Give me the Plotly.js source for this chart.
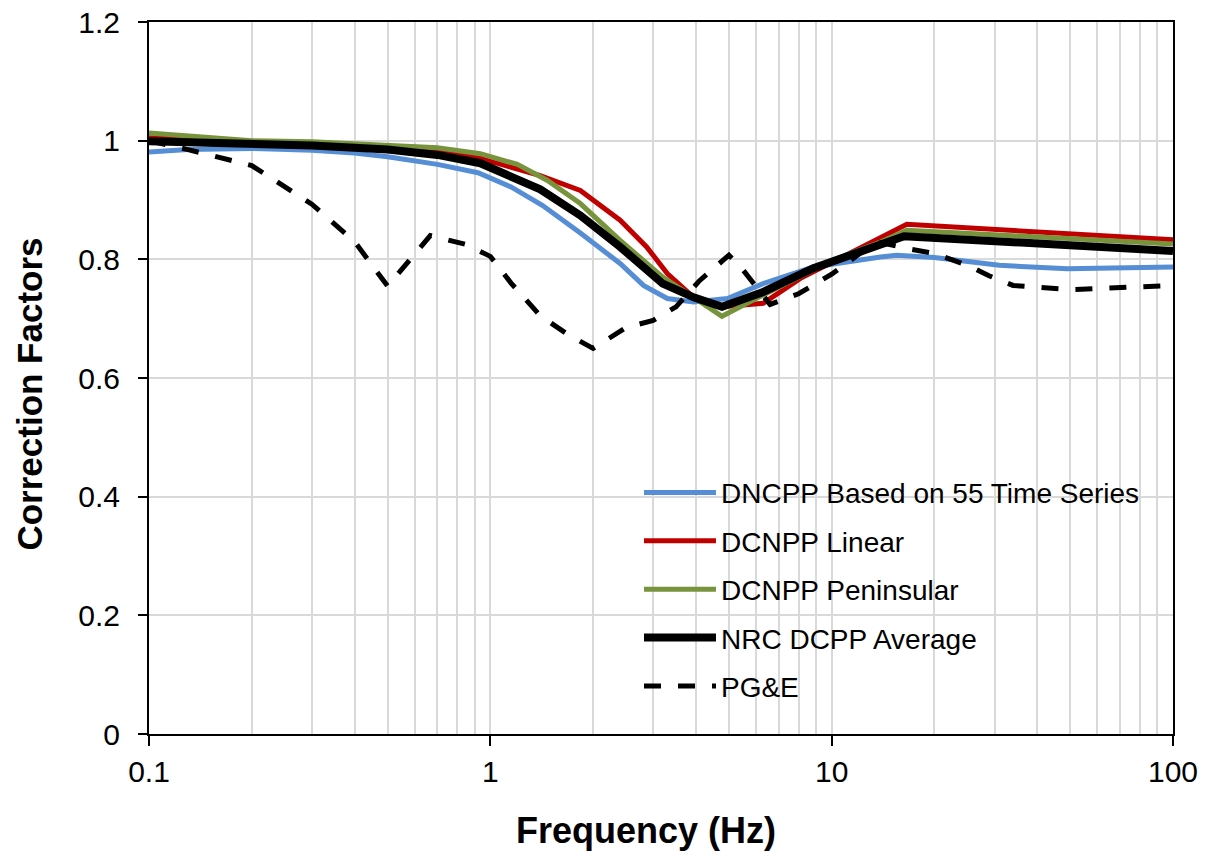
<!DOCTYPE html>
<html>
<head>
<meta charset="utf-8">
<script src="https://cdn.plot.ly/plotly-3.0.1.min.js"></script>
<style>html,body{margin:0;padding:0;background:#fff;}#chart{width:1212px;height:857px;}</style>
</head>
<body>
<div id="chart"></div>
<script>
// Series names
const seriesNames = ["DNCPP Based on 55 Time Series", "DCNPP Linear", "DCNPP Peninsular", "NRC DCPP Average", "PG&E"];

// DNCPP Based on 55 Time Series
const blueFreq = [0.1, 0.13, 0.2, 0.3, 0.4, 0.5, 0.7, 0.92, 1.15, 1.42, 1.84, 2.4, 2.81, 3.3, 3.94, 4.95, 6.3, 8.84, 13.9, 15.5, 20, 31, 49, 100];
const blueVal  = [0.981, 0.985, 0.987, 0.984, 0.979, 0.973, 0.960, 0.946, 0.922, 0.891, 0.844, 0.793, 0.756, 0.734, 0.728, 0.734, 0.759, 0.787, 0.804, 0.807, 0.803, 0.790, 0.784, 0.787];

// DCNPP Linear
const redFreq = [0.1, 0.2, 0.3, 0.5, 0.7, 0.935, 1.4, 1.835, 2.4, 2.87, 3.3, 3.94, 4.8, 6.3, 8.1, 10, 13.9, 16.6, 100];
const redVal  = [1.005, 0.998, 0.995, 0.989, 0.983, 0.970, 0.941, 0.916, 0.866, 0.821, 0.776, 0.736, 0.720, 0.726, 0.768, 0.795, 0.835, 0.859, 0.833];

// DCNPP Peninsular
const greenFreq = [0.1, 0.2, 0.3, 0.5, 0.7, 0.935, 1.2, 1.47, 1.835, 2.4, 3.2, 3.94, 4.77, 6.3, 10, 13.9, 16.6, 100];
const greenVal  = [1.013, 1.0, 0.998, 0.993, 0.988, 0.978, 0.960, 0.933, 0.894, 0.832, 0.770, 0.736, 0.704, 0.740, 0.798, 0.829, 0.849, 0.826];

// NRC DCPP Average
const blackFreq = [0.1, 0.2, 0.3, 0.5, 0.7, 0.935, 1.4, 1.835, 2.4, 3.2, 3.94, 4.77, 6.3, 8.84, 13.9, 16.3, 100];
const blackVal  = [0.999, 0.995, 0.992, 0.985, 0.976, 0.962, 0.918, 0.874, 0.821, 0.759, 0.736, 0.720, 0.745, 0.785, 0.823, 0.839, 0.814];

// PG&E
const pgeFreq = [0.1, 0.13, 0.2, 0.3, 0.4, 0.5, 0.667, 0.85, 1.0, 1.15, 1.4, 1.7, 2.0, 2.5, 3.0, 3.5, 4.1, 5.0, 5.5, 6.0, 6.6, 8.0, 10, 13.5, 17, 20, 25, 29, 34, 50, 100];
const pgeVal  = [1.0, 0.985, 0.958, 0.893, 0.830, 0.755, 0.840, 0.825, 0.805, 0.760, 0.705, 0.672, 0.650, 0.685, 0.697, 0.720, 0.764, 0.807, 0.782, 0.753, 0.724, 0.742, 0.775, 0.830, 0.817, 0.810, 0.790, 0.772, 0.756, 0.749, 0.756];

// Axis ticks and titles
const xTickVals = [0.1, 1, 10, 100];
const xTickText = ["0.1", "1", "10", "100"];
const yTickVals = [0, 0.2, 0.4, 0.6, 0.8, 1, 1.2];
const yTickText = ["0", "0.2", "0.4", "0.6", "0.8", "1", "1.2"];
const xTitle = "Frequency (Hz)";
const yTitle = "Correction Factors";

const FONT = "Liberation Sans, Arial, sans-serif";

function tr(x, y, name, color, width, dash, grp) {
  return {x: x, y: y, name: name, type: "scatter", mode: "lines",
          line: {color: color, width: width, dash: dash || "solid"},
          legendgroup: grp, hoverinfo: "skip"};
}

const data = [
  tr(blueFreq, blueVal, seriesNames[0], "#558ED5", 5, null, "g1"),
  tr(redFreq, redVal, seriesNames[1], "#C00000", 5, null, "g2"),
  tr(greenFreq, greenVal, seriesNames[2], "#77933C", 5, null, "g3"),
  tr(blackFreq, blackVal, seriesNames[3], "#000000", 8, null, "g4"),
  tr(pgeFreq, pgeVal, seriesNames[4], "#000000", 5, "17px,17px", "g5")
];

const layout = {
  width: 1212, height: 857,
  paper_bgcolor: "#fff", plot_bgcolor: "#fff",
  margin: {l: 149, r: 39, t: 22, b: 123, pad: 0},
  font: {family: FONT, color: "#000"},
  showlegend: true,
  legend: {
    x: 0.4785, y: 0.374, xanchor: "left", yanchor: "top",
    bgcolor: "rgba(255,255,255,0)", borderwidth: 0,
    font: {family: FONT, size: 28, color: "#000"},
    traceorder: "grouped", tracegroupgap: 9,
    itemwidth: 72
  },
  shapes: [{
    type: "rect", xref: "paper", yref: "paper",
    x0: 0.4717, x1: 0.9824, y0: 0.0365, y1: 0.375,
    fillcolor: "#ffffff", line: {width: 0}, layer: "between"
  }],
  annotations: [
    {text: "<b>" + xTitle + "</b>", xref: "paper", yref: "paper", x: 0.4854, y: -0.136,
     xanchor: "center", yanchor: "middle", showarrow: false,
     font: {family: FONT, size: 36, color: "#000"}},
    {text: "<b>" + yTitle + "</b>", xref: "paper", yref: "paper", x: -0.117, y: 0.477,
     xanchor: "center", yanchor: "middle", showarrow: false, textangle: -90,
     font: {family: FONT, size: 35, color: "#000"}}
  ],
  xaxis: {
    type: "log", range: [-1, 2],
    tickvals: xTickVals, ticktext: xTickText,
    tickfont: {family: FONT, size: 30, color: "#000"},
    ticks: "outside", ticklen: 10, tickwidth: 2, tickcolor: "#000",
    showline: true, linecolor: "#000", linewidth: 2, mirror: true,
    showgrid: true, gridcolor: "#d9d9d9", gridwidth: 2,
    minor: {dtick: "D1", showgrid: true, gridcolor: "#d9d9d9", gridwidth: 2, ticks: ""},
    zeroline: false
  },
  yaxis: {
    range: [0, 1.2],
    tickvals: yTickVals, ticktext: yTickText,
    tickfont: {family: FONT, size: 30, color: "#000"},
    ticks: "outside", ticklen: 9, tickwidth: 2, tickcolor: "#000",
    ticklabelstandoff: 12,
    showline: true, linecolor: "#000", linewidth: 2, mirror: true,
    showgrid: true, gridcolor: "#d9d9d9", gridwidth: 2,
    zeroline: false
  }
};

Plotly.newPlot("chart", data, layout, {displayModeBar: false, staticPlot: true});
</script>
</body>
</html>
